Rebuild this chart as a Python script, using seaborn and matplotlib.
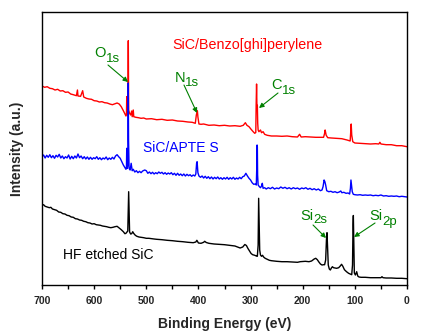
import matplotlib
matplotlib.use("Agg")
import matplotlib.pyplot as plt
import numpy as np
import pandas as pd
import seaborn as sns

# ---------------- data (binding energy in eV, intensity in a.u.) ----------------
red_ev = [700, 695, 690, 685, 680, 675, 670, 665, 660, 655, 650, 645, 640, 634, 632, 631,
          626, 622, 620, 615, 610, 605, 600, 595, 590, 585, 580, 575, 570, 565, 560, 556,
          552, 548, 544, 541, 539, 538, 537.5, 536.5, 535.2, 534.5, 533.8, 532, 530, 528,
          527, 525, 524, 520, 515, 510, 505, 500, 490, 480, 470, 460, 450, 440, 430, 420,
          412, 406, 404, 402, 401, 399, 395, 390, 380, 370, 360, 350, 340, 330, 320, 314,
          310, 307, 303, 299, 295, 292, 290, 289.3, 288.5, 287.8, 287, 286.3, 285.5, 284,
          281, 279, 276, 273, 268, 260, 250, 240, 230, 220, 210, 206, 203, 195, 185, 175,
          165, 160, 158, 157, 155, 152, 145, 135, 125, 115, 109, 108, 107, 106, 104, 100,
          90, 80, 70, 60, 54, 52, 50, 40, 30, 20, 10, 0]
red_int = [199.0, 197.7, 198.3, 196.7, 196.3, 195.0, 195.7, 194.0, 194.3, 192.7, 193.0, 191.0,
           190.3, 189.3, 195.0, 189.0, 188.7, 194.3, 188.0, 186.7, 186.0, 185.7, 184.3, 184.0,
           183.0, 183.3, 182.3, 182.0, 181.0, 180.3, 181.3, 182.0, 181.0, 178.3, 174.3, 171.0,
           169.0, 171.7, 188.3, 170.0, 185.0, 244.3, 175.0, 171.7, 170.0, 174.0, 168.3, 175.0,
           168.3, 167.7, 167.3, 166.7, 167.0, 166.0, 166.3, 165.3, 165.7, 164.7, 165.0, 164.0,
           163.7, 163.0, 162.7, 161.7, 170.0, 174.3, 168.0, 161.0, 160.7, 161.0, 159.7, 160.0,
           159.3, 159.7, 159.0, 159.3, 158.7, 159.7, 162.3, 159.7, 158.3, 155.7, 153.3, 151.7,
           152.5, 180.0, 201.0, 179.0, 179.7, 161.7, 155.0, 153.3, 155.0, 152.3, 153.3, 150.7,
           149.7, 149.0, 149.0, 148.7, 149.0, 148.3, 148.0, 150.7, 148.0, 148.3, 148.0, 147.7,
           147.7, 147.7, 151.7, 155.0, 149.7, 147.3, 147.0, 146.7, 146.3, 145.0, 144.0, 153.3,
           161.0, 150.0, 143.3, 142.0, 141.7, 141.3, 141.0, 141.3, 141.0, 142.7, 141.0, 140.3,
           140.3, 139.3, 139.3, 138.3]

blue_ev = [700, 697, 694, 691, 688, 685, 682, 679, 676, 673, 670, 667, 664, 661, 658, 655,
           652, 649, 646, 643, 640, 637, 634, 631, 628, 625, 622, 619, 616, 613, 610, 607,
           604, 601, 598, 595, 592, 589, 586, 583, 580, 577, 574, 571, 568, 565, 562, 559,
           556, 553, 550, 547, 544, 541, 539, 538, 537.5, 536.5, 535.5, 534.6, 534, 533, 531,
           529, 527, 525, 522, 519, 516, 513, 510, 507, 503, 500, 497, 494, 491, 488, 485,
           482, 479, 476, 473, 470, 467, 464, 461, 458, 455, 452, 449, 446, 443, 440, 437,
           434, 431, 428, 425, 422, 419, 416, 413, 410, 407, 405, 403.5, 402.5, 401, 399,
           396, 393, 390, 387, 384, 381, 378, 375, 372, 369, 366, 363, 360, 357, 354, 351,
           348, 345, 342, 339, 336, 333, 330, 327, 324, 321, 318, 315, 312, 309, 306, 303,
           300, 297, 294, 291, 289, 288, 287.5, 287, 286.5, 285.5, 283, 281, 279, 277.5,
           276, 273, 270, 266, 262, 258, 254, 250, 246, 242, 238, 234, 230, 226, 222, 218,
           214, 210, 206, 202, 198, 194, 190, 186, 182, 178, 174, 170, 166, 163, 161, 159,
           157.5, 156, 154, 150, 146, 142, 138, 134, 130, 127, 125, 121, 117, 113, 110,
           108.5, 107.5, 106.5, 105, 103, 100, 95, 90, 85, 80, 75, 70, 65, 60, 55, 50, 45,
           40, 35, 30, 25, 20, 15, 10, 5, 0]
blue_int = [128.3, 130.0, 127.0, 129.7, 127.7, 130.3, 127.3, 129.3, 126.7, 129.7, 128.0, 130.7,
            127.0, 129.0, 126.3, 128.3, 127.0, 130.0, 126.0, 128.7, 126.3, 129.0, 127.0, 131.0,
            127.3, 129.0, 126.3, 128.3, 126.0, 128.0, 125.7, 127.7, 125.7, 127.3, 126.3, 128.3,
            125.7, 127.3, 125.3, 127.0, 126.0, 128.0, 125.3, 127.0, 125.7, 127.7, 126.0, 129.0,
            130.3, 128.3, 126.7, 123.3, 120.0, 117.3, 115.7, 118.3, 136.7, 116.7, 120.0, 202.0,
            145.0, 116.7, 115.0, 121.7, 114.3, 115.7, 113.0, 114.3, 112.3, 113.7, 112.3, 114.0,
            115.0, 114.3, 111.7, 113.0, 111.3, 112.7, 111.0, 112.3, 111.3, 113.0, 111.7, 112.7,
            111.0, 112.3, 110.7, 112.0, 111.0, 112.3, 110.3, 111.7, 109.7, 111.7, 109.7, 111.0,
            109.3, 111.0, 109.0, 110.7, 109.3, 110.3, 108.7, 110.0, 109.0, 111.0, 121.7, 123.3,
            112.3, 109.0, 107.7, 109.0, 107.0, 108.7, 106.7, 108.3, 106.3, 108.0, 106.0, 107.7,
            106.3, 108.0, 106.0, 107.3, 105.7, 107.3, 106.0, 107.7, 105.7, 107.3, 106.0, 107.7,
            105.7, 107.0, 106.0, 107.7, 106.3, 108.3, 109.0, 111.7, 109.0, 106.7, 105.0, 102.3,
            100.7, 101.0, 100.0, 120.0, 140.0, 138.0, 110.0, 100.0, 98.3, 97.3, 99.0, 101.7,
            96.7, 97.3, 96.0, 97.3, 96.3, 97.7, 96.0, 97.0, 96.3, 98.0, 96.7, 97.7, 96.3, 97.3,
            96.0, 97.3, 96.3, 97.0, 95.7, 97.0, 96.3, 97.3, 95.7, 96.7, 95.3, 96.3, 95.0, 96.0,
            94.3, 95.0, 98.3, 105.0, 103.3, 100.0, 94.3, 93.3, 93.7, 92.7, 93.3, 92.3, 93.0,
            94.0, 92.3, 92.7, 91.7, 92.0, 91.0, 96.7, 105.0, 100.0, 93.3, 90.7, 90.3, 90.0,
            90.3, 89.7, 90.0, 89.7, 90.0, 89.3, 89.7, 89.3, 90.0, 89.0, 89.3, 88.7, 89.0, 88.7,
            89.0, 88.3, 88.7, 88.3, 88.0]

black_ev = [700, 697, 694, 690, 686, 683, 680, 676, 672, 668, 664, 660, 656, 652, 648, 644,
            640, 636, 632, 628, 624, 620, 616, 612, 608, 604, 600, 596, 592, 588, 584, 580,
            576, 572, 568, 564, 560, 556, 552, 548, 544, 541, 539, 537, 535.5, 534.5, 533.8,
            533, 532, 530, 528, 526, 524, 521, 518, 514, 510, 505, 500, 495, 490, 485, 480,
            470, 460, 450, 440, 430, 420, 410, 405, 403, 400, 395, 390, 388, 385, 380, 370,
            360, 350, 340, 330, 320, 315, 311, 308, 305, 302, 299, 296, 292, 289, 287, 285.5,
            284.5, 283.5, 282.5, 281, 279, 277, 275, 272, 268, 264, 260, 250, 240, 230, 220,
            210, 205, 195, 188, 183, 178, 175, 172, 169, 166, 163, 160, 158, 156, 154.5, 153.4,
            152.5, 151, 149, 147, 145, 143, 141, 138, 135, 131, 128, 125.5, 123, 120, 116, 112,
            108, 106, 104.5, 103.5, 102.9, 102, 101, 99, 96.5, 94.5, 92, 88, 80, 70, 60, 50,
            48, 46, 40, 30, 20, 10, 0]
black_int = [79.7, 80.3, 78.7, 78.0, 77.3, 77.7, 76.0, 75.3, 74.7, 73.0, 72.7, 71.3, 71.0, 69.7,
             69.3, 68.0, 67.7, 66.3, 66.0, 65.0, 64.7, 63.7, 63.3, 62.3, 62.0, 61.0, 61.3, 60.3,
             60.0, 59.7, 59.0, 58.7, 58.3, 57.7, 57.3, 57.7, 58.3, 58.7, 57.0, 55.3, 53.3, 51.3,
             51.7, 53.0, 54.0, 80.0, 93.3, 75.0, 53.0, 51.0, 51.3, 53.3, 51.5, 49.7, 48.7, 48.0,
             47.7, 47.3, 46.7, 46.7, 46.3, 46.0, 45.7, 45.3, 44.7, 44.3, 43.7, 43.3, 42.7, 42.3,
             43.0, 44.7, 42.0, 41.7, 42.7, 43.7, 42.5, 41.7, 41.0, 40.7, 40.3, 39.7, 39.0, 37.0,
             38.0, 40.5, 39.5, 36.5, 34.0, 31.5, 30.3, 29.7, 29.0, 28.7, 40.0, 86.7, 60.0, 35.0,
             30.0, 28.7, 29.7, 28.0, 26.7, 25.7, 24.7, 24.3, 23.7, 23.3, 23.3, 23.0, 22.7, 23.3,
             23.7, 23.3, 24.0, 26.0, 26.7, 25.3, 23.0, 21.0, 20.0, 20.3, 20.3, 25.0, 45.0, 52.3,
             40.0, 20.0, 16.0, 15.0, 17.0, 18.3, 17.3, 17.0, 16.7, 17.3, 19.0, 20.7, 18.7, 15.3,
             13.3, 11.7, 10.7, 10.3, 20.0, 60.0, 69.5, 40.0, 12.0, 10.0, 13.3, 9.0, 8.0, 7.7, 7.7,
             7.3, 7.3, 7.3, 8.3, 7.3, 7.0, 7.0, 6.7, 6.7, 6.3]

samples = ["SiC/Benzo[ghi]perylene", "SiC/APTES", "HF etched SiC"]
colors = ["#FF0000", "#0000FF", "#000000"]
tick_values = [700, 600, 500, 400, 300, 200, 100, 0]

# peak labels: element, subscript
peak_main = ["O", "N", "C", "Si", "Si"]
peak_sub = ["1s", "1s", "1s", "2s", "2p"]

df = pd.concat([
    pd.DataFrame({"ev": red_ev, "intensity": red_int, "sample": samples[0]}),
    pd.DataFrame({"ev": blue_ev, "intensity": blue_int, "sample": samples[1]}),
    pd.DataFrame({"ev": black_ev, "intensity": black_int, "sample": samples[2]}),
], ignore_index=True)

# ---------------- style ----------------
sns.set_theme(style="ticks")
plt.rcParams["font.family"] = ["Liberation Sans", "DejaVu Sans"]

fig = plt.figure(figsize=(4.21, 3.33), dpi=100)
ax = fig.add_axes([42 / 421, 48 / 333, 365 / 421, 273 / 333])

sns.lineplot(data=df, x="ev", y="intensity", hue="sample", hue_order=samples,
             palette=dict(zip(samples, colors)), sort=False, estimator=None,
             linewidth=1.0, legend=False, ax=ax)

ax.set_xlim(700, 0)
ax.set_ylim(0, 273)
ax.set_xticks(tick_values)
ax.set_xticklabels([str(v) for v in tick_values], fontsize=7.5, fontweight="bold")
ax.set_xticks([650, 550, 450, 350, 250, 150, 50], minor=True)
ax.tick_params(axis="x", which="both", direction="out", length=3, width=1, color="black", pad=5)
ax.set_yticks([])
for s in ax.spines.values():
    s.set_visible(True)
    s.set_color("black")
    s.set_linewidth(1.0)

ax.set_xlabel("Binding Energy (eV)", fontsize=10, fontweight="bold", labelpad=8)
ax.set_ylabel("Intensity (a.u.)", fontsize=10, fontweight="bold", labelpad=13)

# sample labels
ax.text(306.8, 240, "SiC/Benzo[ghi]perylene", color="#FF0000", fontsize=10.3, ha="center", va="center")
ax.text(433.4, 137, "SiC/APTE S", color="#0000FF", fontsize=10, ha="center", va="center")
ax.text(573.4, 30, "HF etched SiC", color="#000000", fontsize=10, ha="center", va="center")

# peak annotations: (split x, main y, sub y), arrow tail, arrow head
green = "#008000"
label_pos = [(578.2, 233.3, 227.7), (425.2, 208.3, 203.3), (239.7, 201.2, 195.5),
             (179.7, 71.0, 66.3), (46.6, 71.0, 65.0)]
arrow_tail = [(573.4, 220), (427.7, 200), (247.4, 192), (180.2, 60), (61.3, 62)]
arrow_head = [(535.0, 203), (402.7, 172), (283.8, 177), (155.3, 47), (101.6, 48)]
for m, sub, (lx, my, sy), tail, head in zip(peak_main, peak_sub, label_pos, arrow_tail, arrow_head):
    ax.text(lx, my, m, color=green, fontsize=10.5, ha="right", va="center_baseline")
    ax.text(lx, sy, sub, color=green, fontsize=9.5, ha="left", va="center_baseline")
    ax.annotate("", xy=head, xytext=tail,
                arrowprops=dict(arrowstyle="-|>", color=green, lw=0.8, mutation_scale=7,
                                shrinkA=0, shrinkB=0))

fig.savefig("out.png", dpi=100)
